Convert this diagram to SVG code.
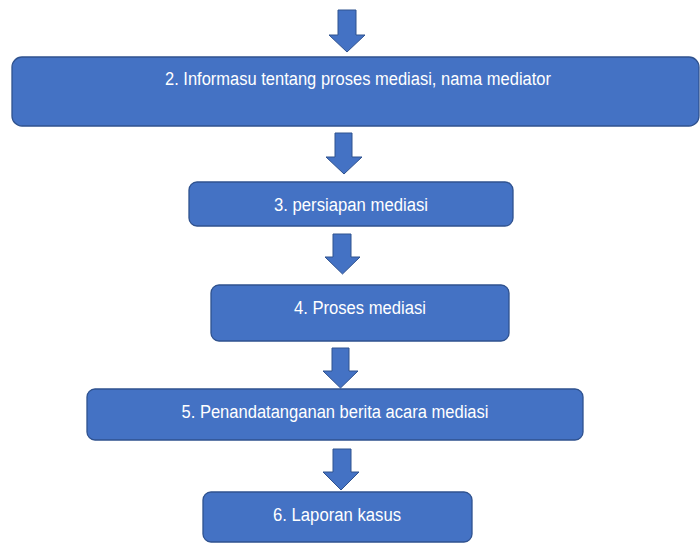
<svg xmlns="http://www.w3.org/2000/svg" width="700" height="543" viewBox="0 0 700 543">
  <style>
    .box { fill: #4472C4; stroke: #2F528F; stroke-width: 1.3; }
    .arr { fill: #4472C4; stroke: #2F528F; stroke-width: 1; }
    .lbl { fill: #FFFFFF; font-family: "Liberation Sans", Arial, sans-serif; font-size: 18px; text-anchor: middle; }
  </style>
  <rect width="700" height="543" fill="#FFFFFF"/>
  <g id="connectors">
    <polygon class="arr" points="338,10 356,10 356,35 365,35 347,52 329,35 338,35"/>
    <polygon class="arr" points="335,133 352,133 352,157 362,157 344,174 326,157 335,157"/>
    <polygon class="arr" points="333,234 351,234 351,257 360,257 342.5,274 325,257 333,257"/>
    <polygon class="arr" points="332,348 349,348 349,371 358,371 340.5,388 323,371 332,371"/>
    <polygon class="arr" points="333,449 351,449 351,472 359,472 341,490 323,472 333,472"/>
  </g>
  <g id="node2">
    <rect class="box" x="12" y="57" width="687" height="69" rx="10"/>
    <text class="lbl" x="358" y="85" textLength="386" lengthAdjust="spacingAndGlyphs">2. Informasu tentang proses mediasi, nama mediator</text>
  </g>
  <g id="node3">
    <rect class="box" x="189" y="182" width="324" height="44" rx="8"/>
    <text class="lbl" x="351" y="211" textLength="154" lengthAdjust="spacingAndGlyphs">3. persiapan mediasi</text>
  </g>
  <g id="node4">
    <rect class="box" x="211" y="285" width="298" height="56" rx="8"/>
    <text class="lbl" x="360" y="314" textLength="132" lengthAdjust="spacingAndGlyphs">4. Proses mediasi</text>
  </g>
  <g id="node5">
    <rect class="box" x="87" y="389" width="496" height="51" rx="8"/>
    <text class="lbl" x="335" y="418" textLength="307" lengthAdjust="spacingAndGlyphs">5. Penandatanganan berita acara mediasi</text>
  </g>
  <g id="node6">
    <rect class="box" x="203" y="492" width="269" height="50" rx="8"/>
    <text class="lbl" x="337" y="521" textLength="128" lengthAdjust="spacingAndGlyphs">6. Laporan kasus</text>
  </g>
</svg>
